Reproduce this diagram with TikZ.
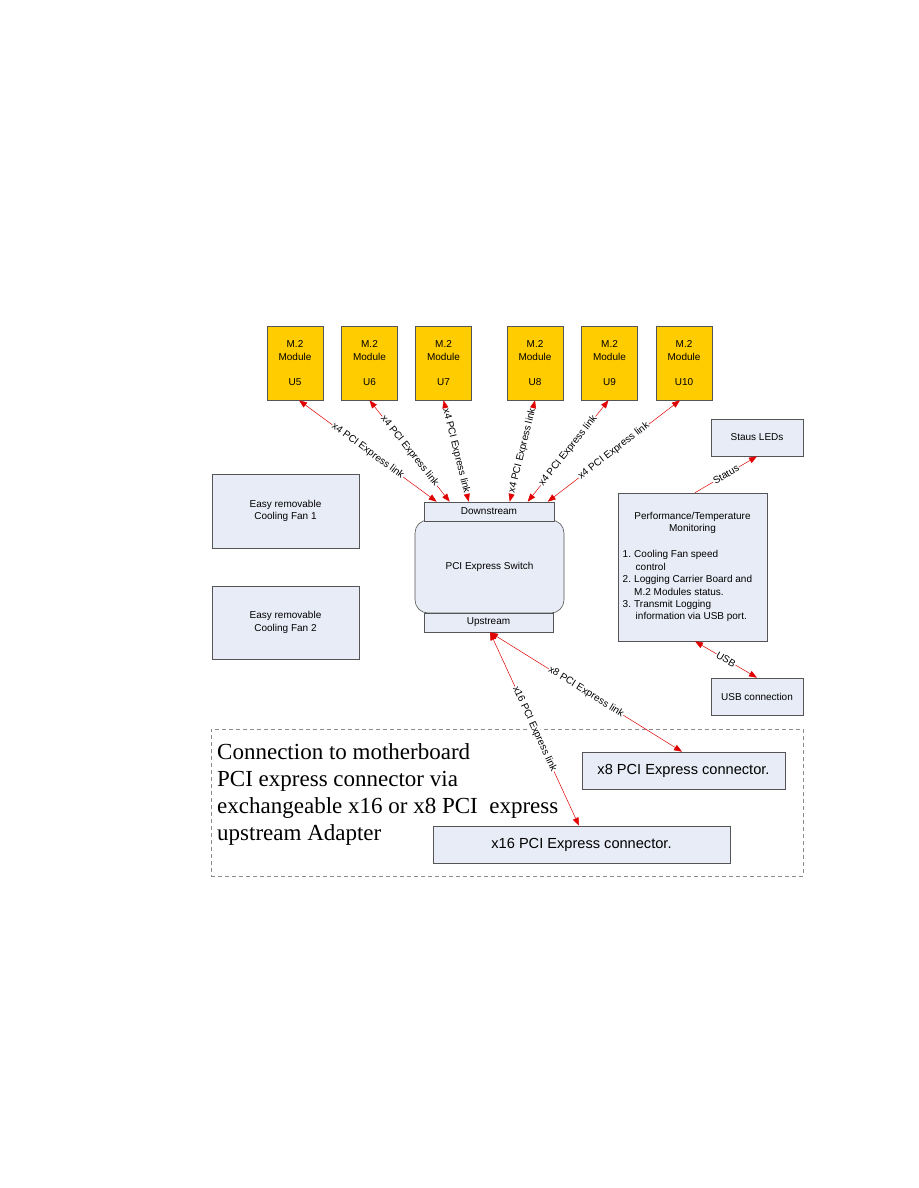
\documentclass[tikz,border=0pt]{standalone}
\usepackage{fontspec}
\setmainfont{Liberation Sans}
\newfontfamily\bigserif{Liberation Serif}
\usetikzlibrary{arrows.meta,calc}
\definecolor{boxfill}{HTML}{E8ECF6}
\definecolor{boxline}{HTML}{555555}
\definecolor{modfill}{HTML}{FFCC00}
\definecolor{linkred}{HTML}{E00000}
\definecolor{dashgray}{HTML}{8C8C8C}
\begin{document}
\begin{tikzpicture}[x=1pt,y=-1pt,
  box/.style={draw=boxline, fill=boxfill, line width=0.6pt, inner sep=0pt, align=center,
    font=\fontsize{10}{12.4}\selectfont},
  conbox/.style={box, font=\fontsize{14.6}{17}\selectfont},
  modbox/.style={draw=boxline, fill=modfill, line width=0.6pt, inner sep=0pt,
    minimum width=56pt, minimum height=74pt, align=center, font=\fontsize{10}{12.5}\selectfont},
  tip/.tip={Triangle[length=8pt,width=6pt]},
  link/.style={draw=linkred, line width=0.5pt, tip-tip},
  onelink/.style={draw=linkred, line width=0.5pt, -tip},
  lbl/.style={midway, sloped, fill=white, inner sep=0.6pt, font=\fontsize{10}{12}\selectfont},
  plain/.style={inner sep=0pt, font=\fontsize{10}{12.4}\selectfont},
  bigtxt/.style={inner sep=0pt, anchor=base west, font=\bigserif\fontsize{23}{27}\selectfont},
]
\useasboundingbox (0,0) rectangle (918,1188);

% adapter region
\node[draw=dashgray, dashed, dash pattern=on 4pt off 3pt, line width=0.8pt, inner sep=0pt,
  minimum width=592pt, minimum height=147pt] (adapter) at (507,802.5) {};
\node[bigtxt] (t1) at (217,759) {Connection to motherboard};
\node[bigtxt] (t2) at (217,786) {PCI express connector via};
\node[bigtxt] (t3) at (217,813) {exchangeable x16 or x8 PCI\ \ express};
\node[bigtxt] (t4) at (217,840) {upstream Adapter};
\node[conbox, minimum width=203pt, minimum height=37pt] (c8) at (683.5,770.5) {x8 PCI Express connector.};
\node[conbox, minimum width=297pt, minimum height=37pt] (c16) at (581.5,844.5) {x16 PCI Express connector.};

% modules
\node[modbox] (U5)  at (295,363)   {M.2\\Module\\[12.5pt]U5};
\node[modbox] (U6)  at (369.5,363) {M.2\\Module\\[12.5pt]U6};
\node[modbox] (U7)  at (443.5,363) {M.2\\Module\\[12.5pt]U7};
\node[modbox] (U8)  at (535,363)   {M.2\\Module\\[12.5pt]U8};
\node[modbox] (U9)  at (609.5,363) {M.2\\Module\\[12.5pt]U9};
\node[modbox] (U10) at (684,363)   {M.2\\Module\\[12.5pt]U10};

% fans
\node[box, minimum width=147pt, minimum height=74pt] (fan1) at (285.5,511) {Easy removable\\Cooling Fan 1};
\node[box, minimum width=147pt, minimum height=73pt] (fan2) at (285.5,622.5) {Easy removable\\Cooling Fan 2};

% switch
\node[box, rounded corners=13pt, minimum width=149pt, minimum height=93pt] (sw) at (489.5,566.5) {PCI Express Switch};
\node[box, minimum width=130pt, minimum height=19pt] (down) at (489,511.5) {Downstream};
\node[box, minimum width=129pt, minimum height=19pt] (up) at (488.5,622.5) {Upstream};

% monitoring
\node[box, minimum width=92pt, minimum height=37pt] (led) at (757,437.5) {Staus LEDs};
\node[box, minimum width=149pt, minimum height=148pt] (perf) at (692.5,567) {};
\node[plain, align=center] (perftitle) at (692.5,523) {Performance/Temperature\\Monitoring};
\node[plain, anchor=north west] (perflist) at (622.5,549)
  {\begin{tabular}{@{}l@{\hspace{3.2pt}}l@{}}
   1. & Cooling Fan speed\\
      & \hspace{1.5pt}control\\
   2. & Logging Carrier Board and\\
      & M.2 Modules status.\\
   3. & Transmit Logging\\
      & \hspace{1.5pt}information via USB port.
   \end{tabular}};
\node[box, minimum width=92pt, minimum height=37pt] (usb) at (757,696.5) {USB connection};

% links
\draw[link] ([xshift=4pt]U5.south) -- ([xshift=13pt]down.north west) node[lbl] {x4 PCI Express link};
\draw[link] (U6.south) -- ([xshift=26pt]down.north west) node[lbl] {x4 PCI Express link};
\draw[link] (U7.south) -- ([xshift=45pt]down.north west) node[lbl] {x4 PCI Express link};
\draw[link] (U8.south) -- ([xshift=86pt]down.north west) node[lbl] {x4 PCI Express link};
\draw[link] ([xshift=-1pt]U9.south) -- ([xshift=104pt]down.north west) node[lbl] {x4 PCI Express link};
\draw[link] ([xshift=-4pt]U10.south) -- ([xshift=124pt]down.north west) node[lbl] {x4 PCI Express link};

\draw[onelink] ([xshift=2.5pt]perf.north) -- (led.south) node[lbl] {Status};
\draw[link] ([xshift=2.5pt]perf.south) -- (usb.north) node[lbl] {USB};

\draw[link] ([xshift=1.5pt]up.south) -- ([xshift=-1.5pt]c8.north) node[lbl] {x8 PCI Express link};
\draw[link] ([xshift=1.5pt]up.south) -- ([xshift=-2.5pt]c16.north) node[lbl] {x16 PCI Express link};
\end{tikzpicture}
\end{document}
